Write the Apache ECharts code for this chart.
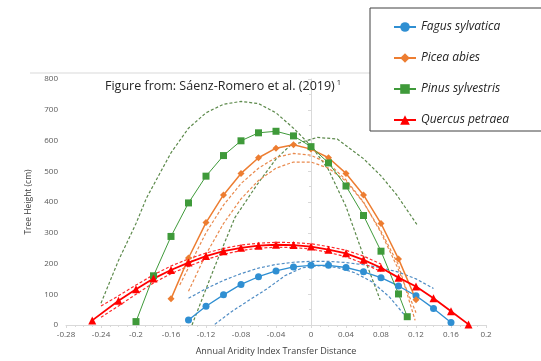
<!DOCTYPE html>
<html><head><meta charset="utf-8">
<script src="https://cdn.jsdelivr.net/npm/echarts@6/dist/echarts.min.js"></script>
<style>html,body{margin:0;padding:0;background:#fff}#c{width:541px;height:361px}</style>
</head><body><div id="c"></div>
<script>
const seriesNames = ['Fagus sylvatica', 'Picea abies', 'Pinus sylvestris', 'Quercus petraea'];
const xTicks = {min: -0.28, max: 0.2, step: 0.04};
const yTicks = {min: 0, max: 800, step: 100};

const fagus = [[-0.14,16],[-0.12,61],[-0.10,98],[-0.08,132],[-0.06,157],[-0.04,176],[-0.02,189],[0,194],[0.02,194],[0.04,187],[0.06,173],[0.08,154],[0.10,127],[0.12,95],[0.14,54],[0.16,8]];
const fagusUpper = [[-0.14,87],[-0.12,118],[-0.10,145],[-0.08,167],[-0.06,185],[-0.04,197],[-0.02,204],[0,207],[0.02,207],[0.04,203],[0.06,196],[0.08,186],[0.10,172],[0.12,150],[0.14,119]];
const fagusLower = [[-0.11,2],[-0.09,45],[-0.07,82],[-0.05,118],[-0.03,160],[-0.01,186],[0.01,193],[0.03,187],[0.05,170],[0.07,140],[0.09,90],[0.11,22]];

const picea = [[-0.16,85],[-0.14,218],[-0.12,333],[-0.10,423],[-0.08,493],[-0.06,544],[-0.04,575],[-0.02,586],[0,572],[0.02,544],[0.04,493],[0.06,423],[0.08,330],[0.10,215],[0.12,82]];
const piceaUpper = [[-0.15,130],[-0.12,300],[-0.10,390],[-0.08,460],[-0.06,510],[-0.04,545],[-0.02,558],[0,552],[0.02,525],[0.04,472],[0.06,400],[0.08,300],[0.10,180],[0.12,40]];
const piceaLower = [[-0.14,110],[-0.12,230],[-0.10,330],[-0.08,410],[-0.06,470],[-0.04,510],[-0.02,530],[0,530],[0.02,510],[0.04,468],[0.06,398],[0.08,305],[0.10,195],[0.119,15]];

const pinus = [[-0.20,11],[-0.18,160],[-0.16,288],[-0.14,397],[-0.12,484],[-0.10,551],[-0.08,599],[-0.06,625],[-0.04,630],[-0.02,615],[0,580],[0.02,527],[0.04,452],[0.06,356],[0.08,240],[0.10,101],[0.11,27]];
const pinusUpperLeft = [[-0.24,71],[-0.22,210],[-0.20,330],[-0.188,413],[-0.16,560],[-0.14,640],[-0.12,690],[-0.10,718],[-0.08,727],[-0.06,720],[-0.04,690],[-0.02,640],[0,583],[0.02,505],[0.04,385],[0.06,225],[0.079,82]];
const pinusUpperRight = [[-0.136,0],[-0.11,190],[-0.087,349],[-0.062,455],[-0.04,540],[-0.024,583],[0.007,610],[0.03,605],[0.06,541],[0.08,485],[0.098,423],[0.121,327]];

const quercus = [[-0.25,15],[-0.22,79],[-0.20,116],[-0.18,151],[-0.16,179],[-0.14,203],[-0.12,224],[-0.10,240],[-0.08,251],[-0.06,258],[-0.04,261],[-0.02,260],[0,255],[0.02,245],[0.04,233],[0.06,212],[0.08,186],[0.10,154],[0.12,125],[0.14,87],[0.16,45],[0.18,2]];
const quercusUpper = [[-0.24,62],[-0.22,95],[-0.20,130],[-0.18,163],[-0.16,192],[-0.14,215],[-0.12,234],[-0.10,249],[-0.08,260],[-0.06,266],[-0.04,269],[-0.02,268],[0,264],[0.02,255],[0.04,243],[0.06,224],[0.08,198]];
const quercusLower = [[-0.24,25],[-0.22,62],[-0.20,100],[-0.18,137],[-0.16,167],[-0.14,191],[-0.12,213],[-0.10,230],[-0.08,242],[-0.06,250],[-0.04,253],[-0.02,252],[0,247],[0.02,236],[0.04,222],[0.06,200],[0.08,174]];

const colors = {fagus:'#2f8fd2', picea:'#ed7d31', pinus:'#3f9a3a', quercus:'#ff0000'};
const dashColors = {fagus:'#4f8cc4', picea:'#e98a4e', pinus:'#5d8a4c', quercus:'#ff2a2a'};
const FONT = 'Open Sans';

function dashed(data, color) {
  return {type:'line', data, symbol:'none', silent:true, z:2,
    lineStyle:{color, width:1.2, type:[3,2]}};
}
function main(name, data, color, symbol, size, width) {
  return {type:'line', name, data, symbol, symbolSize:size, z:5,
    itemStyle:{color}, lineStyle:{color, width}};
}

const chart = echarts.init(document.getElementById('c'), null, {renderer:'canvas'});
chart.setOption({
  animation:false,
  textStyle:{fontFamily:FONT},
  title:{
    text:'{a|Figure from: Sáenz-Romero et al. (2019)}{s| 1}',
    left:100, top:74,
    textStyle:{fontWeight:'normal', rich:{
      a:{fontFamily:FONT, fontSize:12.5, fontWeight:'normal', color:'#262626'},
      s:{fontFamily:FONT, fontSize:7.5, fontWeight:'normal', color:'#262626', verticalAlign:'top', padding:[0,0,6,0]}
    }}
  },
  legend:{
    data:seriesNames, orient:'vertical', left:370, top:8,
    padding:[13,34,5,23], itemGap:19, itemWidth:22, itemHeight:12,
    borderColor:'#404040', borderWidth:1,
    textStyle:{fontFamily:FONT, fontSize:12, fontStyle:'italic', color:'#262626'}
  },
  grid:{left:66, right:55, top:79, bottom:32},
  xAxis:{
    type:'value', min:xTicks.min, max:xTicks.max, interval:xTicks.step,
    name:'Annual Aridity Index Transfer Distance', nameLocation:'middle', nameGap:22,
    nameTextStyle:{fontFamily:FONT, fontSize:9, color:'#404040'},
    axisLine:{show:true, lineStyle:{color:'#d9d9d9'}},
    axisTick:{show:true, length:3, lineStyle:{color:'#d9d9d9'}},
    minorTick:{show:true, splitNumber:4, length:2, lineStyle:{color:'#d9d9d9'}},
    splitLine:{show:false},
    axisLabel:{fontFamily:FONT, fontSize:8, color:'#595959', margin:6,
      formatter:v=>String(+v.toFixed(2))}
  },
  yAxis:{
    type:'value', min:yTicks.min, max:yTicks.max, interval:yTicks.step,
    name:'Tree Height (cm)', nameLocation:'middle', nameGap:21,
    nameTextStyle:{fontFamily:FONT, fontSize:8.5, color:'#404040'},
    axisLine:{show:true, lineStyle:{color:'#d9d9d9'}},
    axisTick:{show:true, length:3, lineStyle:{color:'#d9d9d9'}},
    minorTick:{show:true, splitNumber:2, length:2, lineStyle:{color:'#d9d9d9'}},
    splitLine:{show:false},
    axisLabel:{fontFamily:FONT, fontSize:8, color:'#595959', margin:8}
  },
  graphic:[{type:'line', shape:{x1:30, y1:73, x2:370, y2:73}, style:{stroke:'#d9d9d9', lineWidth:1}, silent:true}],
  series:[
    dashed(pinusUpperLeft, dashColors.pinus),
    dashed(pinusUpperRight, dashColors.pinus),
    dashed(piceaUpper, dashColors.picea),
    dashed(piceaLower, dashColors.picea),
    dashed(fagusUpper, dashColors.fagus),
    dashed(fagusLower, dashColors.fagus),
    dashed(quercusUpper, dashColors.quercus),
    dashed(quercusLower, dashColors.quercus),
    main(seriesNames[0], fagus, colors.fagus, 'circle', 7, 1.3),
    main(seriesNames[1], picea, colors.picea, 'diamond', 7, 1.5),
    main(seriesNames[2], pinus, colors.pinus, 'rect', 7, 1),
    main(seriesNames[3], quercus, colors.quercus, 'triangle', 8, 1.8)
  ]
});
</script></body></html>
